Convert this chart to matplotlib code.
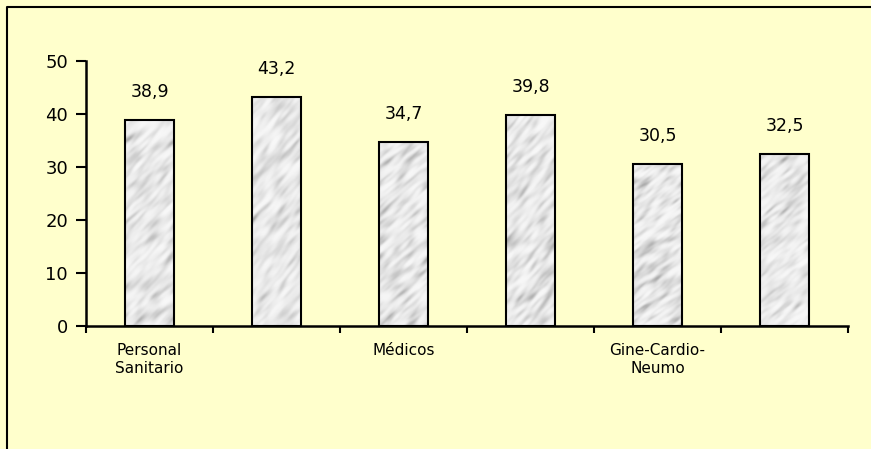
import numpy as np
import matplotlib
matplotlib.use("Agg")
import matplotlib.pyplot as plt
from matplotlib.patches import Rectangle
from matplotlib.lines import Line2D

categories = ["Personal\nSanitario", "", "Médicos", "", "Gine-Cardio-\nNeumo", ""]
values = [38.9, 43.2, 34.7, 39.8, 30.5, 32.5]
value_labels = ["38,9", "43,2", "34,7", "39,8", "30,5", "32,5"]
yticks = [0, 10, 20, 30, 40, 50]

W, H = 871, 449
fig = plt.figure(figsize=(W / 100, H / 100), dpi=100)
bg = "#FFFFCC"
fig.patch.set_facecolor(bg)

x0, x1 = 86, 848
y0, y1 = 326, 60.7
ax = fig.add_axes([x0 / W, (H - y0) / H, (x1 - x0) / W, (y0 - y1) / H])
ax.set_facecolor(bg)

n = len(values)
xs = np.arange(n) + 0.5

# marble-like texture for the bar fill (decorative only)
rng = np.random.default_rng(7)
def texture(h=200, w=50):
    noise = rng.standard_normal((h, w))
    f = np.fft.fft2(noise)
    ky = np.fft.fftfreq(h)[:, None]
    kx = np.fft.fftfreq(w)[None, :]
    u = (kx + ky) / np.sqrt(2)
    v = (kx - ky) / np.sqrt(2)
    filt = np.exp(-((u * 6) ** 2 + (v * 22) ** 2))
    t = np.real(np.fft.ifft2(f * filt))
    t = (t - t.min()) / (t.max() - t.min())
    return 0.97 - 0.30 * t ** 2.2

bw = 0.39
for x, v in zip(xs, values):
    tex = texture()
    im = ax.imshow(tex, cmap="gray", vmin=0, vmax=1, extent=(x - bw / 2, x + bw / 2, 0, v),
                   aspect="auto", interpolation="bilinear", zorder=2)
    rect = Rectangle((x - bw / 2, 0), bw, v, facecolor="none", edgecolor="black",
                     linewidth=1.5, zorder=3)
    ax.add_patch(rect)
    im.set_clip_path(rect)

ax.set_xlim(0, n)
ax.set_ylim(0, 50)

for x, v, lab in zip(xs, values, value_labels):
    ax.annotate(lab, (x, v), xytext=(0, 28), textcoords="offset pixels",
                ha="center", va="center", fontsize=12.5, color="black")

ax.set_xticks(np.arange(n + 1))
ax.set_xticklabels([])
ax.set_xticks(xs, minor=True)
ax.set_xticklabels(categories, minor=True, fontsize=11, linespacing=1.25)
ax.tick_params(axis="x", which="minor", length=0, pad=12)
ax.tick_params(axis="x", which="major", length=5, width=1.5, direction="out")
ax.set_yticks(yticks)
ax.set_yticklabels([str(t) for t in yticks], fontsize=13)
ax.tick_params(axis="y", length=7, width=1.5, direction="out", pad=6)

for s in ["top", "right"]:
    ax.spines[s].set_visible(False)
for s in ["left", "bottom"]:
    ax.spines[s].set_linewidth(1.8)

# figure border (left and top)
fig.add_artist(Line2D([7 / W, 7 / W, 1.0], [0.0, 1 - 7 / H, 1 - 7 / H],
                      transform=fig.transFigure, color="black", linewidth=1.5))

fig.savefig("out.png", dpi=100, facecolor=bg)
